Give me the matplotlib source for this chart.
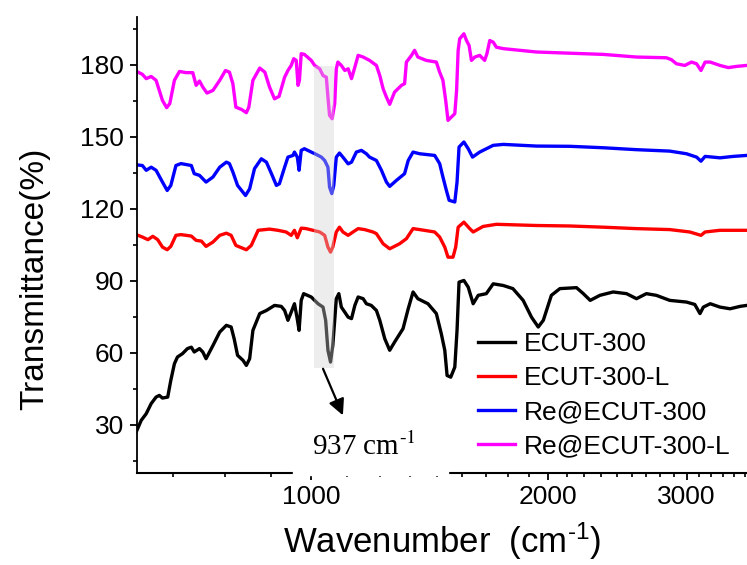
import numpy as np
import matplotlib
matplotlib.use("Agg")
import matplotlib.pyplot as plt
from matplotlib.ticker import FixedLocator, MultipleLocator, NullFormatter, FuncFormatter
from matplotlib.patches import Rectangle

plt.rcParams['font.family'] = ['Liberation Sans', 'DejaVu Sans']
plt.rcParams['mathtext.fontset'] = 'custom'
plt.rcParams['mathtext.rm'] = 'Liberation Sans'
plt.rcParams['mathtext.it'] = 'Liberation Sans'

# ECUT-300 (black)
wn_k = [599, 608, 617, 626, 635, 641, 647, 657, 663, 670, 676, 686, 696, 704, 710, 721, 728, 735,
        750, 765, 780, 791, 798, 806, 819, 827, 835, 843, 860, 877, 898, 916, 925, 934, 943, 952,
        959, 965, 971, 978, 1000, 1020, 1035, 1043, 1050, 1058, 1065, 1071, 1076, 1084, 1092, 1103,
        1114, 1125, 1136, 1147, 1164, 1175, 1192, 1210, 1222, 1240, 1258, 1276, 1308, 1328, 1347,
        1366, 1407, 1442, 1463, 1478, 1488, 1504, 1522, 1532, 1541, 1563, 1583, 1606, 1630, 1669,
        1703, 1754, 1804, 1859, 1905, 1943, 1972, 2019, 2070, 2173, 2217, 2262, 2327, 2419, 2516,
        2590, 2666, 2745, 2855, 2998, 3072, 3119, 3150, 3214, 3307, 3406, 3507, 3576]
t_k = [26.9, 31.8, 34.6, 38.8, 41.5, 42.2, 41.1, 41.5, 48.5, 55.4, 58.2, 59.6, 61.7, 62.3, 60.3, 61.7,
       60.3, 57.5, 63.0, 68.6, 71.4, 70.7, 65.8, 58.9, 56.8, 54.7, 57.5, 69.3, 76.3, 77.6, 79.7, 79.3,
       77.6, 73.5, 76.9, 80.4, 74.8, 69.3, 81.8, 84.6, 83.2, 80.4, 79.0, 73.5, 61.0, 56.1, 63.0, 73.5,
       82.5, 84.6, 79.0, 76.9, 74.8, 74.2, 79.7, 83.2, 82.5, 80.4, 79.7, 77.6, 73.5, 65.8, 61.0, 64.4,
       70.0, 78.3, 85.3, 82.5, 80.4, 76.3, 67.9, 61.0, 50.5, 49.8, 54.0, 69.3, 89.4, 90.1, 87.3, 80.4,
       83.9, 84.6, 88.7, 88.0, 86.7, 81.8, 74.8, 70.7, 73.5, 83.9, 86.7, 87.1, 84.6, 81.8, 83.9, 85.3,
       84.6, 82.5, 84.6, 83.9, 81.8, 81.1, 80.1, 76.3, 79.0, 80.4, 79.0, 78.3, 79.3, 79.7]

# ECUT-300-L (red)
wn_r = [599, 610, 620, 629, 638, 647, 656, 663, 673, 683, 704, 714, 725, 735, 750, 765, 780, 791,
        802, 827, 839, 856, 885, 907, 929, 943, 952, 960, 971, 985, 1005, 1025, 1040, 1050, 1058,
        1065, 1076, 1086, 1097, 1114, 1130, 1147, 1169, 1198, 1210, 1222, 1234, 1258, 1295, 1321,
        1347, 1373, 1435, 1456, 1478, 1492, 1514, 1526, 1537, 1563, 1590, 1606, 1653, 1719, 1933,
        2131, 2350, 2590, 2855, 3027, 3128, 3166, 3307, 3576]
t_r = [109.2, 108.2, 107.1, 108.5, 107.1, 104.0, 102.9, 104.3, 108.9, 109.2, 108.6, 106.8, 106.5,
       104.3, 106.1, 108.9, 109.8, 108.9, 104.7, 102.9, 104.7, 111.0, 111.5, 111.0, 110.3, 108.9,
       111.0, 107.9, 111.9, 111.7, 111.0, 110.3, 108.9, 104.0, 101.9, 104.0, 110.3, 112.3, 110.3,
       108.9, 110.3, 111.7, 111.3, 110.3, 109.6, 107.5, 105.4, 103.3, 105.4, 107.5, 111.7, 111.3,
       110.3, 108.2, 104.0, 99.8, 99.8, 104.0, 112.3, 114.4, 111.7, 110.3, 112.6, 113.5, 113.0,
       112.8, 112.3, 111.7, 111.3, 110.3, 108.9, 110.3, 111.0, 111.0]

# Re@ECUT-300 (blue)
wn_b = [599, 610, 617, 626, 635, 647, 656, 663, 673, 683, 704, 710, 721, 735, 750, 765, 780, 787,
        795, 806, 825, 835, 847, 864, 877, 890, 903, 911, 925, 934, 948, 952, 960, 965, 971, 980,
        1000, 1015, 1030, 1040, 1050, 1055, 1062, 1068, 1076, 1086, 1097, 1114, 1125, 1141, 1158,
        1175, 1186, 1210, 1228, 1246, 1258, 1283, 1314, 1328, 1347, 1373, 1435, 1456, 1470, 1485,
        1497, 1522, 1532, 1541, 1563, 1583, 1603, 1637, 1703, 1754, 1933, 2131, 2350, 2590, 2855,
        2998, 3088, 3128, 3166, 3307, 3439, 3576]
t_b = [138.3, 138.0, 136.0, 137.3, 136.0, 131.1, 127.6, 129.7, 138.0, 138.8, 138.0, 134.6, 133.9,
       131.1, 133.2, 137.3, 139.4, 138.8, 135.3, 129.7, 125.5, 128.3, 136.7, 140.8, 139.4, 134.6,
       129.7, 130.4, 137.3, 141.5, 142.2, 143.6, 141.5, 136.0, 144.3, 145.0, 143.6, 142.6, 141.5,
       140.1, 137.3, 129.0, 126.3, 129.7, 141.5, 143.2, 141.5, 138.7, 139.4, 143.6, 144.3, 142.9,
       141.5, 140.1, 136.0, 131.1, 129.3, 131.8, 134.6, 140.1, 143.6, 142.9, 142.2, 138.8, 133.2,
       127.6, 123.5, 122.8, 131.1, 145.7, 147.8, 145.0, 141.5, 143.6, 146.4, 146.8, 146.1, 146.0,
       145.4, 144.6, 144.0, 142.9, 141.5, 139.8, 141.8, 141.2, 141.8, 142.2]

# Re@ECUT-300-L (magenta)
wn_m = [599, 610, 617, 626, 635, 647, 655, 661, 670, 680, 693, 707, 714, 721, 728, 737, 750, 765,
        778, 787, 795, 802, 815, 827, 833, 843, 860, 873, 885, 898, 910, 925, 934, 943, 950, 957,
        962, 966, 971, 980, 1000, 1010, 1025, 1035, 1045, 1050, 1055, 1063, 1071, 1076, 1081, 1092,
        1103, 1114, 1125, 1136, 1147, 1164, 1186, 1210, 1222, 1234, 1246, 1258, 1276, 1302, 1314,
        1321, 1341, 1353, 1366, 1400, 1442, 1456, 1470, 1482, 1492, 1507, 1522, 1530, 1537, 1544,
        1563, 1575, 1587, 1598, 1614, 1637, 1661, 1672, 1686, 1703, 1719, 1754, 1841, 1933, 2131,
        2350, 2590, 2827, 2869, 2911, 2983, 3042, 3088, 3128, 3166, 3214, 3307, 3389, 3472, 3576]
t_m = [177.3, 176.0, 174.2, 175.1, 173.5, 165.1, 162.1, 163.8, 173.5, 177.2, 176.7, 176.7, 171.4,
       173.2, 170.7, 168.2, 169.3, 173.5, 177.6, 176.9, 172.1, 162.3, 161.4, 160.0, 162.3, 173.5,
       178.6, 176.9, 170.7, 165.8, 166.8, 174.8, 177.6, 179.7, 182.5, 181.8, 171.4, 173.5, 184.6,
       184.3, 181.8, 179.7, 178.3, 175.5, 174.8, 166.5, 158.9, 157.5, 163.8, 178.3, 181.1, 179.7,
       177.6, 178.3, 174.2, 179.0, 183.9, 183.2, 181.8, 179.7, 175.5, 170.0, 166.5, 163.5, 168.6,
       171.4, 172.1, 181.1, 183.9, 186.0, 183.2, 181.8, 181.1, 176.9, 173.5, 165.1, 156.8, 158.2,
       159.6, 169.3, 186.0, 190.8, 192.9, 190.1, 188.0, 181.8, 183.2, 183.9, 181.8, 184.6, 190.1,
       189.4, 187.3, 186.7, 186.0, 185.3, 184.8, 184.3, 183.2, 182.9, 182.1, 180.4, 179.7, 181.1,
       180.4, 177.6, 181.1, 181.1, 179.7, 178.8, 179.3, 179.7]

labels = ['ECUT-300', 'ECUT-300-L', 'Re@ECUT-300', 'Re@ECUT-300-L']
colors = ['#000000', '#ff0000', '#0000ff', '#ff00ff']

fig = plt.figure(figsize=(7.47, 5.65), dpi=100)
ax = fig.add_axes([0.183, 0.1634, 0.817, 0.807])

for wn, t, lab, c in zip([wn_k, wn_r, wn_b, wn_m], [t_k, t_r, t_b, t_m], labels, colors):
    ax.plot(wn, t, color=c, lw=2.4, label=lab)

ax.set_xscale('log')
ax.set_xlim(600, 3579)
ax.set_ylim(10, 200)

ax.xaxis.set_major_locator(FixedLocator([1000, 2000, 3000]))
ax.xaxis.set_major_formatter(FuncFormatter(lambda v, p: '%d' % v))
minors = [1000 / 9 * k for k in range(6, 33) if k % 9 != 0]
ax.xaxis.set_minor_locator(FixedLocator(minors))
ax.xaxis.set_minor_formatter(NullFormatter())
ax.yaxis.set_major_locator(MultipleLocator(30))
ax.yaxis.set_minor_locator(MultipleLocator(15))

for s in ['top', 'right']:
    ax.spines[s].set_visible(False)
ax.spines['left'].set_linewidth(1.3)
ax.spines['bottom'].set_linewidth(1.5)
ax.tick_params(which='major', direction='out', length=5, width=1.3, labelsize=19, pad=4)
ax.tick_params(which='minor', direction='out', length=3, width=1.2)

ax.set_ylabel('Transmittance(%)', fontsize=24)
ax.yaxis.set_label_coords(-0.142, 0.425)
ax.set_xlabel('Wavenumber  (cm$^{\\text{-1}}$)', fontsize=25)
ax.xaxis.set_label_coords(0.5, -0.105)

# highlighted band and annotation
ax.fill_between([1008, 1068], 53.5, 179.3, color='0.82', alpha=0.38, lw=0, zorder=3)
ax.annotate('', xy=(1097, 33.9), xytext=(1035, 53.3),
            arrowprops=dict(arrowstyle='-|>', color='k', lw=1.6, mutation_scale=24,
                            shrinkA=0, shrinkB=0))
ax.text(1003, 17.2, '937 cm$^{\\text{-1}}$', family='Liberation Serif', fontsize=21,
        math_fontfamily='stix', ha='left', va='baseline')
ax.add_patch(Rectangle((0.2566, -0.006), 0.254, 0.012, transform=ax.transAxes,
                       color='white', clip_on=False, zorder=3))

ax.legend(loc='upper left', bbox_to_anchor=(0.559, 0.3085), frameon=False, fontsize=19,
          handlelength=1.4, handletextpad=0.35, labelspacing=0.38, borderpad=0, borderaxespad=0)

fig.savefig('out.png', dpi=100)
